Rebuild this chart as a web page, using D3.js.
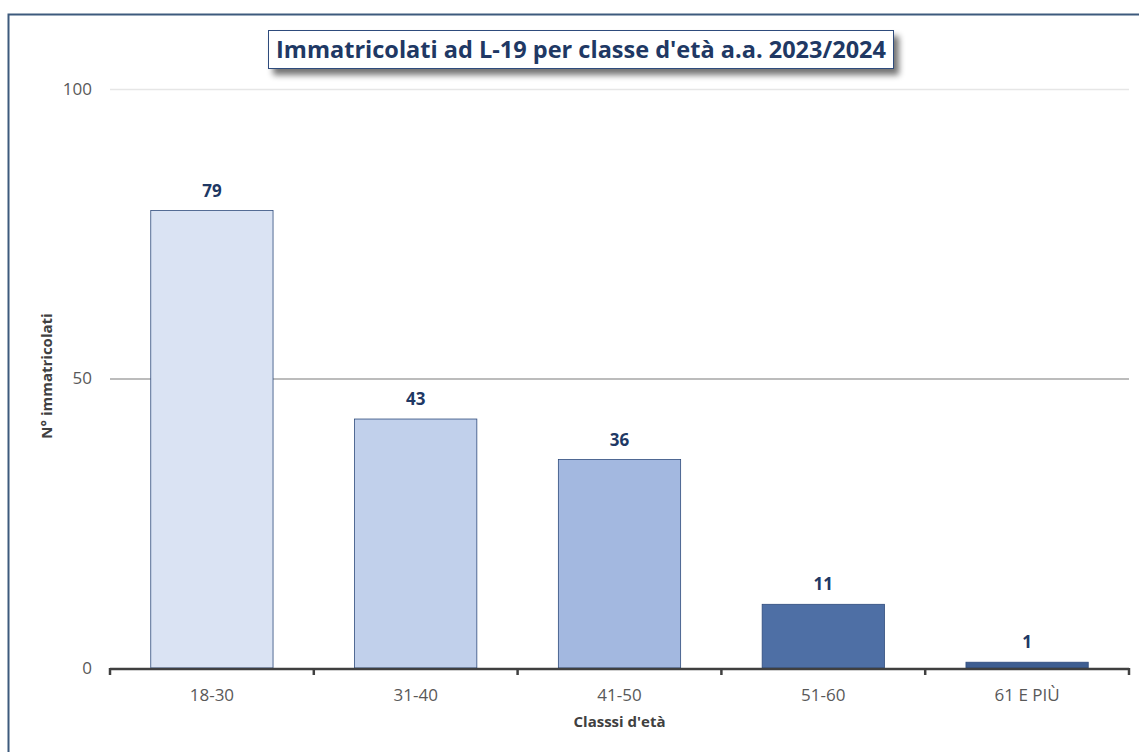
<!DOCTYPE html>
<html>
<head>
<meta charset="utf-8">
<script src="https://cdn.jsdelivr.net/npm/d3@7"></script>
<style>
  body { margin: 0; background: #fff; }
  svg { display: block; font-family: "Open Sans", "Noto Sans", sans-serif; }
</style>
</head>
<body>
<div id="container"></div>
<script>
// ******* Data *******
var categories = ["18-30", "31-40", "41-50", "51-60", "61 E PIÙ"];
var values = [79, 43, 36, 11, 1];
var barColors = ["#dae3f3", "#c1d0eb", "#a3b8e0", "#4e6fa5", "#3f5e91"];
var yTicks = [0, 50, 100];
var title = "Immatricolati ad L-19 per classe d'età a.a. 2023/2024";

var width = 1139, height = 752;
var margin = { left: 110, right: 10, top: 89, bottom: 84 };

var svg = d3.select("#container").append("svg")
  .attr("width", width)
  .attr("height", height);

// outer frame
svg.append("rect")
  .attr("x", 8.5).attr("y", 14.5)
  .attr("width", width).attr("height", height)
  .attr("fill", "none")
  .attr("stroke", "#3d5a7d")
  .attr("stroke-width", 2);

var x = d3.scaleBand()
  .domain(categories)
  .range([margin.left, width - margin.right])
  .paddingInner(0.4)
  .paddingOuter(0.2);

var y = d3.scaleLinear()
  .domain([0, 100])
  .range([height - margin.bottom, margin.top]);

// gridlines
svg.selectAll(".grid")
  .data(yTicks.filter(function(d) { return d > 0; }))
  .enter().append("line")
  .attr("class", "grid")
  .attr("x1", margin.left).attr("x2", width - margin.right)
  .attr("y1", function(d) { return y(d) + 0.5; })
  .attr("y2", function(d) { return y(d) + 0.5; })
  .attr("stroke", function(d) { return d == 100 ? "#e6e6e6" : "#a6a6a6"; })
  .attr("stroke-width", 1.5);

// y tick labels
svg.selectAll(".ylab")
  .data(yTicks)
  .enter().append("text")
  .attr("class", "ylab")
  .attr("x", 92)
  .attr("y", function(d) { return y(d); })
  .attr("dy", "0.35em")
  .attr("text-anchor", "end")
  .style("font-size", "17px")
  .style("fill", "#595959")
  .text(function(d) { return d; });

// bars
svg.selectAll(".bar")
  .data(values)
  .enter().append("rect")
  .attr("class", "bar")
  .attr("x", function(d, i) { return x(categories[i]); })
  .attr("width", x.bandwidth())
  .attr("y", function(d) { return y(d); })
  .attr("height", function(d) { return y(0) - y(d); })
  .attr("fill", function(d, i) { return barColors[i]; })
  .attr("stroke", "#2f4b7c")
  .attr("stroke-width", 0.8);

// value labels
svg.selectAll(".vlab")
  .data(values)
  .enter().append("text")
  .attr("class", "vlab")
  .attr("x", function(d, i) { return x(categories[i]) + x.bandwidth() / 2; })
  .attr("y", function(d) { return y(d) - 14; })
  .attr("text-anchor", "middle")
  .style("font-size", "17px")
  .style("font-weight", "bold")
  .style("fill", "#203864")
  .text(function(d) { return d; });

// x axis
var step = x.step();
var bounds = d3.range(categories.length + 1).map(function(i) { return margin.left + i * step; });
svg.append("line")
  .attr("x1", margin.left).attr("x2", width - margin.right)
  .attr("y1", y(0) + 1).attr("y2", y(0) + 1)
  .attr("stroke", "#404040").attr("stroke-width", 2.5);
svg.selectAll(".xtick")
  .data(bounds)
  .enter().append("line")
  .attr("class", "xtick")
  .attr("x1", function(d) { return d; }).attr("x2", function(d) { return d; })
  .attr("y1", y(0)).attr("y2", y(0) + 7)
  .attr("stroke", "#404040").attr("stroke-width", 2.5);

svg.selectAll(".xlab")
  .data(categories)
  .enter().append("text")
  .attr("class", "xlab")
  .attr("x", function(d) { return x(d) + x.bandwidth() / 2; })
  .attr("y", y(0) + 33)
  .attr("text-anchor", "middle")
  .style("font-size", "17px")
  .style("fill", "#595959")
  .text(function(d) { return d; });

// axis titles
svg.append("text")
  .attr("x", (margin.left + width - margin.right) / 2)
  .attr("y", 727)
  .attr("text-anchor", "middle")
  .style("font-size", "15px")
  .style("font-weight", "bold")
  .style("fill", "#404040")
  .text("Classsi d'età");

svg.append("text")
  .attr("transform", "translate(52," + 376 + ")rotate(-90)")
  .attr("text-anchor", "middle")
  .style("font-size", "15px")
  .style("font-weight", "bold")
  .style("fill", "#404040")
  .text("N° immatricolati");

// title box with shadow
var defs = svg.append("defs");
var f = defs.append("filter").attr("id", "shadow").attr("x", "-10%").attr("y", "-50%").attr("width", "120%").attr("height", "200%");
f.append("feGaussianBlur").attr("in", "SourceAlpha").attr("stdDeviation", 3);
f.append("feOffset").attr("dx", 5).attr("dy", 6).attr("result", "off");
f.append("feComponentTransfer").append("feFuncA").attr("type", "linear").attr("slope", 0.55);
var merge = f.append("feMerge");
merge.append("feMergeNode");
merge.append("feMergeNode").attr("in", "SourceGraphic");

svg.append("rect")
  .attr("x", 268.5).attr("y", 30.5)
  .attr("width", 625).attr("height", 38)
  .attr("fill", "#fff")
  .attr("stroke", "#2f4b7c")
  .attr("stroke-width", 1)
  .attr("filter", "url(#shadow)");

var t = svg.append("text")
  .attr("x", 581).attr("y", 58)
  .attr("text-anchor", "middle")
  .style("font-size", "24px")
  .style("font-weight", "bold")
  .style("fill", "#203864")
  .text(title);
var tw = t.node().getComputedTextLength();
if (tw > 610) t.attr("textLength", 610).attr("lengthAdjust", "spacingAndGlyphs");
</script>
</body>
</html>
